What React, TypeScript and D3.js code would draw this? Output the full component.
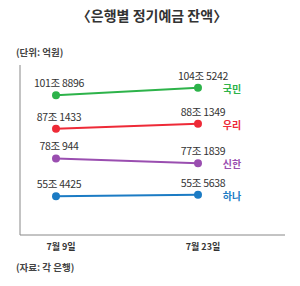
import React, { useEffect, useRef } from "react";
import * as d3 from "d3";

// 억원 단위
const dates = ["7월 9일", "7월 23일"];
const banks = ["국민", "우리", "신한", "하나"];
const kookmin = [1018896, 1045242];
const woori = [871433, 881349];
const shinhan = [780944, 771839];
const hana = [554425, 555638];
const colors = ["#2db34a", "#ee2a37", "#9a4eb0", "#1b7bc4"];

const W = 300;
const H = 286;
const FONT = "'Noto Sans CJK KR', 'Noto Sans', sans-serif";

const fmt = (v: number) => `${Math.floor(v / 10000)}조 ${v % 10000}`;

const App = () => {
  const svgRef = useRef<SVGSVGElement>(null);

  useEffect(() => {
    const svg = d3.select(svgRef.current);
    svg.selectAll("*").remove();

    const series = [kookmin, woori, shinhan, hana];

    const x = d3.scalePoint<string>().domain(dates).range([56, 198]);
    // schematic chart: one row per bank, change within a row exaggerated
    const row = d3.scalePoint<string>().domain(banks).range([91.5, 195.5]);
    const delta = d3
      .scaleSymlog()
      .constant(1000)
      .domain([-20000, 20000])
      .range([4.3, -4.3]);

    svg
      .append("rect")
      .attr("width", W)
      .attr("height", H)
      .attr("fill", "#fff");

    // title
    svg
      .append("text")
      .attr("x", 152)
      .attr("y", 21)
      .attr("text-anchor", "middle")
      .style("font-family", FONT)
      .style("font-size", "14px")
      .style("font-weight", "bold")
      .attr("fill", "#333")
      .text("〈은행별 정기예금 잔액〉");

    svg
      .append("text")
      .attr("x", 16)
      .attr("y", 56)
      .style("font-family", FONT)
      .style("font-size", "9.5px")
      .style("font-weight", "bold")
      .attr("fill", "#444")
      .text("(단위: 억원)");

    // axes frame
    svg
      .append("line")
      .attr("x1", 20)
      .attr("x2", 20)
      .attr("y1", 65)
      .attr("y2", 235)
      .attr("stroke", "#888")
      .attr("stroke-width", 1);
    svg
      .append("line")
      .attr("x1", 20)
      .attr("x2", 285)
      .attr("y1", 235)
      .attr("y2", 235)
      .attr("stroke", "#888")
      .attr("stroke-width", 1);

    // x labels
    svg
      .selectAll(".xlab")
      .data(dates)
      .enter()
      .append("text")
      .attr("class", "xlab")
      .attr("x", (d) => (x(d) as number) + 5)
      .attr("y", 250)
      .attr("text-anchor", "middle")
      .style("font-family", FONT)
      .style("font-size", "9px")
      .style("font-weight", "bold")
      .attr("fill", "#333")
      .text((d) => d);

    series.forEach((s, k) => {
      const mid = (s[0] + s[1]) / 2;
      const yy = (v: number) => (row(banks[k]) as number) + delta(v - mid);

      const line = d3
        .line<number>()
        .x((_, i) => x(dates[i]) as number)
        .y((d) => yy(d));

      const g = svg.append("g");
      g.append("path")
        .attr("d", line(s))
        .attr("fill", "none")
        .attr("stroke", colors[k])
        .attr("stroke-width", 2);

      g.selectAll("circle")
        .data(s)
        .enter()
        .append("circle")
        .attr("cx", (_, i) => x(dates[i]) as number)
        .attr("cy", (d) => yy(d))
        .attr("r", 4)
        .attr("fill", colors[k]);

      g.selectAll(".val")
        .data(s)
        .enter()
        .append("text")
        .attr("class", "val")
        .attr("x", (_, i) => (x(dates[i]) as number) + (i === 0 ? 3 : 5))
        .attr("y", (d) => yy(d) - 8)
        .attr("text-anchor", "middle")
        .style("font-family", FONT)
        .style("font-size", "10.5px")
        .style("letter-spacing", "-0.3px")
        .attr("fill", "#333")
        .text((d) => fmt(d));

      // bank name at right end
      g.append("text")
        .attr("x", (x(dates[1]) as number) + 34)
        .attr("y", yy(s[1]) + 5)
        .attr("text-anchor", "middle")
        .style("font-family", FONT)
        .style("font-size", "10px")
        .style("font-weight", "bold")
        .attr("fill", colors[k])
        .text(banks[k]);
    });

    svg
      .append("text")
      .attr("x", 16)
      .attr("y", 271)
      .style("font-family", FONT)
      .style("font-size", "9.5px")
      .style("font-weight", "bold")
      .attr("fill", "#444")
      .text("(자료: 각 은행)");
  }, []);

  return (
    <svg
      ref={svgRef}
      width={W}
      height={H}
      style={{ position: "absolute", left: 0, top: 0 }}
    ></svg>
  );
};

export default App;
